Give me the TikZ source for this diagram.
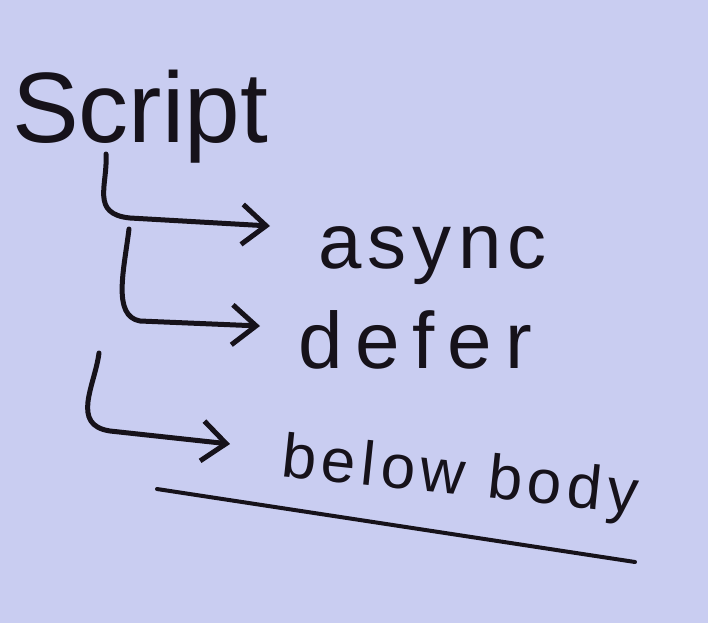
\documentclass[tikz,border=0pt]{standalone}
\usepackage{fontspec}
\setmainfont{Liberation Sans}
\usetikzlibrary{arrows.meta}
\definecolor{board}{HTML}{C9CDF1}
\definecolor{ink}{HTML}{16121A}
\tikzset{
  hand/.style={inner sep=0pt, text=ink, anchor=base west},
  pen/.style={draw=ink, line width=5pt, line cap=round, line join=round},
  penarrow/.style={pen, -{Straight Barb[length=24pt,width=40pt]}},
}
\begin{document}
\begin{tikzpicture}[x=1pt,y=-1pt]
\fill[board] (0,0) rectangle (708,623);
\useasboundingbox (0,0) rectangle (708,623);
% texts
\node[hand, font={\fontsize{100}{100}\selectfont}] (script) at (12,142) {Script};
\node[hand, font={\fontsize{78}{78}\selectfont\addfontfeature{LetterSpace=8}}] (async) at (318,268) {async};
\node[hand, font={\fontsize{80}{80}\selectfont\addfontfeature{LetterSpace=16}}] (defer) at (298,368) {defer};
\node[hand, rotate=-6, font={\fontsize{62}{62}\selectfont\addfontfeature{LetterSpace=9}}] (below) at (280,476) {below body};
% connector anchors
\coordinate (s1) at (106,154);
\coordinate (t1) at (270,226);
\coordinate (s2) at (129,229);
\coordinate (t2) at (260,326);
\coordinate (s3) at (99,353);
\coordinate (t3) at (230,444);
\coordinate (u1) at (157,489);
\coordinate (u2) at (635,562);
% connectors
\draw[penarrow] (s1) .. controls (108,185) and (90,214) .. (130,218) -- (t1);
\draw[penarrow] (s2) .. controls (124,270) and (112,316) .. (140,321) -- (t2);
\draw[penarrow] (s3) .. controls (95,385) and (70,425) .. (110,431) -- (t3);
\draw[pen, line width=4pt] (u1) -- (u2);
\end{tikzpicture}
\end{document}
